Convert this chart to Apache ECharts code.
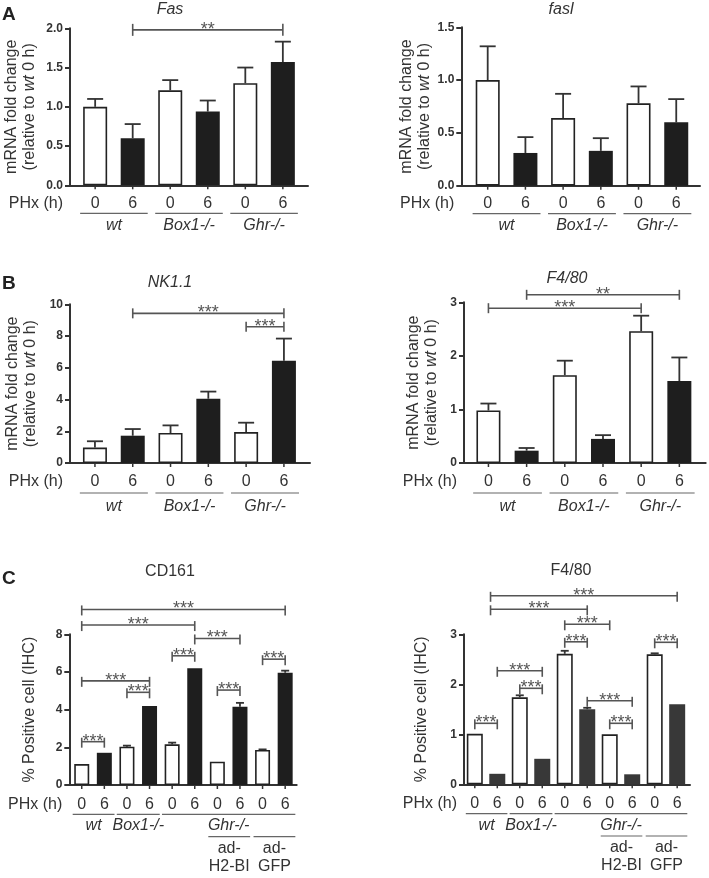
<!DOCTYPE html>
<html><head><meta charset="utf-8">
<script src="https://cdn.jsdelivr.net/npm/echarts@6/dist/echarts.min.js"></script>
<style>html,body{margin:0;padding:0;background:#fff}#c{width:709px;height:878px}</style>
</head><body><div id="c"></div>
<script>
// ---------------- DATA ----------------
const phxTicks = ['0', '6'];
const groupNames = ['wt', 'Box1-/-', 'Ghr-/-'];
const groupsAB = [[-0.4, 1.4], [1.6, 3.4], [3.6, 5.4]];
const groupsC = [[-0.4, 1.45], [1.55, 3.45], [3.55, 9.45]];
const subGroupsC = [[5.6, 7.45], [7.6, 9.45]];
const subGroupNamesC = [['ad-', 'H2-BI'], ['ad-', 'GFP']];

// Panel A: Fas
const fasMean = [1.00, 0.60, 1.21, 0.94, 1.30, 1.57];
const fasTop  = [1.10, 0.78, 1.34, 1.08, 1.50, 1.83];
const fasBrackets = [[1, 5, 1.98, '**']];
// Panel A: fasl
const faslMean = [1.00, 0.31, 0.64, 0.33, 0.78, 0.60];
const faslTop  = [1.32, 0.46, 0.87, 0.45, 0.94, 0.82];
const faslBrackets = [];
// Panel B: NK1.1
const nkMean = [0.97, 1.72, 1.89, 4.05, 1.95, 6.45];
const nkTop  = [1.37, 2.14, 2.37, 4.50, 2.54, 7.84];
const nkBrackets = [[1, 5, 9.43, '***'], [4, 5, 8.59, '***']];
// Panel B: F4/80
const f480Mean = [0.98, 0.23, 1.64, 0.45, 2.46, 1.53];
const f480Top  = [1.11, 0.28, 1.91, 0.52, 2.75, 1.97];
const f480Brackets = [[0, 4, 2.89, '***'], [1, 5, 3.14, '**']];
// Panel C: CD161 (IHC)
const cd161Mean = [1.11, 1.71, 2.03, 4.19, 2.16, 6.20, 1.24, 4.15, 1.86, 5.96];
const cd161Top  = [1.11, 1.71, 2.09, 4.19, 2.25, 6.20, 1.24, 4.36, 1.89, 6.07];
const cd161Brackets = [[0, 9, 9.32, '***'], [0, 5, 8.49, '***'], [5, 7, 7.78, '***'], [4, 5, 6.86, '***'],
  [8, 9, 6.68, '***'], [0, 3, 5.53, '***'], [2, 3, 4.92, '***'], [6, 7, 5.04, '***'], [0, 1, 2.3, '***']];
// Panel C: F4/80 (IHC)
const f480cMean = [1.01, 0.21, 1.74, 0.51, 2.61, 1.50, 1.00, 0.20, 2.60, 1.60];
const f480cTop  = [1.01, 0.21, 1.78, 0.51, 2.67, 1.53, 1.00, 0.20, 2.62, 1.60];
const f480cBrackets = [[0.7, 9, 3.77, '***'], [0.7, 5, 3.5, '***'], [4, 6, 3.2, '***'], [4, 5, 2.85, '***'],
  [8, 9, 2.84, '***'], [1, 3, 2.27, '***'], [2, 3, 1.92, '***'], [5, 7, 1.67, '***'], [0, 1, 1.22, '***'], [6, 7, 1.22, '***']];

// ---------------- BUILD ----------------
const FONT = '"Liberation Sans", Arial, Helvetica, sans-serif';
const mrnaName = 'mRNA fold change\n(relative to {i|wt} 0 h)';
const ihcName = '% Positive cell (IHC)';

const panels = [
  {gl: 70, gt: 28.3, gw: 238, gh: 157, xmin: -0.67, xmax: 5.67, ymax: 2, yint: 0.5, dec: 1,
   mean: fasMean, errTop: fasTop, brackets: fasBrackets, groups: groupsAB, sub: null, barW: 24, cap: 8,
   dark: '#1e1e1e', name: mrnaName, nameGap: 31, capUp: 6, capDn: 6, lab: 18, line: 28, grp: 40},
  {gl: 461.3, gt: 27.3, gw: 238.7, gh: 158.4, xmin: -0.70, xmax: 5.63, ymax: 1.5, yint: 0.5, dec: 1,
   mean: faslMean, errTop: faslTop, brackets: faslBrackets, groups: groupsAB, sub: null, barW: 24, cap: 8,
   dark: '#1e1e1e', name: mrnaName, nameGap: 25, capUp: 6, capDn: 6, lab: 18, line: 28, grp: 40},
  {gl: 70, gt: 304.3, gw: 240, gh: 158.7, xmin: -0.66, xmax: 5.69, ymax: 10, yint: 2, dec: 0,
   mean: nkMean, errTop: nkTop, brackets: nkBrackets, groups: groupsAB, sub: null, barW: 24, cap: 8,
   dark: '#1e1e1e', name: mrnaName, nameGap: 30, capUp: 5, capDn: 5, lab: 18.5, line: 30, grp: 44},
  {gl: 464, gt: 302.3, gw: 241.7, gh: 160.7, xmin: -0.64, xmax: 5.69, ymax: 3, yint: 1, dec: 0,
   mean: f480Mean, errTop: f480Top, brackets: f480Brackets, groups: groupsAB, sub: null, barW: 24, cap: 8,
   dark: '#1e1e1e', name: mrnaName, nameGap: 23, capUp: 5, capDn: 5, lab: 18.5, line: 30, grp: 44},
  {gl: 69.3, gt: 634.3, gw: 227.4, gh: 150.7, xmin: -0.55, xmax: 9.51, ymax: 8, yint: 2, dec: 0,
   mean: cd161Mean, errTop: cd161Top, brackets: cd161Brackets, groups: groupsC, sub: subGroupsC, barW: 15, cap: 4,
   dark: '#1e1e1e', name: ihcName, nameGap: 31, capUp: 4, capDn: 6, lab: 19.3, line: 29.3, grp: 41},
  {gl: 464, gt: 634.3, gw: 226, gh: 150, xmin: -0.48, xmax: 9.57, ymax: 3, yint: 1, dec: 0,
   mean: f480cMean, errTop: f480cTop, brackets: f480cBrackets, groups: groupsC, sub: subGroupsC, barW: 16, cap: 4,
   dark: '#383838', name: ihcName, nameGap: 33, capUp: 4, capDn: 6, lab: 19.3, line: 29.3, grp: 41}
];

const grids = [], xAxes = [], yAxes = [], series = [];
const AX = '#333';
panels.forEach((c, i) => {
  grids.push({left: c.gl, top: c.gt, width: c.gw, height: c.gh, containLabel: false, outerBoundsMode: 'none'});
  xAxes.push({gridIndex: i, type: 'value', min: c.xmin, max: c.xmax,
    axisLine: {show: true, onZero: false, lineStyle: {color: AX, width: 2}},
    axisTick: {show: false}, axisLabel: {show: false}, splitLine: {show: false}});
  yAxes.push({gridIndex: i, type: 'value', min: 0, max: c.ymax, interval: c.yint,
    axisLine: {show: true, onZero: false, lineStyle: {color: AX, width: 2}},
    axisTick: {show: true, length: 5, lineStyle: {color: AX, width: 2}},
    axisLabel: {fontFamily: FONT, fontSize: 12, fontWeight: 'bold', color: AX, margin: 7,
      formatter: v => v.toFixed(c.dec)},
    splitLine: {show: false},
    name: c.name, nameLocation: 'middle', nameGap: c.nameGap,
    nameTextStyle: {fontFamily: FONT, fontSize: 16, color: AX, lineHeight: 18,
      rich: {i: {fontFamily: FONT, fontSize: 16, color: AX, fontStyle: 'italic', lineHeight: 18}}}});
  // bars
  series.push({type: 'bar', xAxisIndex: i, yAxisIndex: i, barWidth: c.barW, animation: false, silent: true,
    data: c.mean.map((v, k) => ({value: [k, v], itemStyle: k % 2 === 0
      ? {color: '#fff', borderColor: '#222', borderWidth: 1.6}
      : {color: c.dark, borderColor: c.dark, borderWidth: 0}}))});
  // error bars
  series.push({type: 'custom', xAxisIndex: i, yAxisIndex: i, clip: false, animation: false, silent: true,
    encode: {x: 0, y: [1, 2]},
    data: c.mean.map((v, k) => [k, v, c.errTop[k]]).filter(d => d[2] > d[1]),
    renderItem: (p, api) => {
      const a = api.coord([api.value(0), api.value(1)]);
      const b = api.coord([api.value(0), api.value(2)]);
      const st = {stroke: '#333', lineWidth: 1.8};
      return {type: 'group', children: [
        {type: 'line', shape: {x1: a[0], y1: a[1], x2: b[0], y2: b[1]}, style: st},
        {type: 'line', shape: {x1: b[0] - c.cap, y1: b[1], x2: b[0] + c.cap, y2: b[1]}, style: st}]};
    }});
  // significance brackets
  if (c.brackets.length) series.push({type: 'custom', xAxisIndex: i, yAxisIndex: i, clip: false, animation: false, silent: true,
    encode: {x: [0, 1], y: 2},
    data: c.brackets.map(b => [b[0], b[1], b[2]]),
    renderItem: (p, api) => {
      const a = api.coord([api.value(0), api.value(2)]);
      const b = api.coord([api.value(1), api.value(2)]);
      const st = {stroke: '#555', lineWidth: 1.6};
      return {type: 'group', children: [
        {type: 'line', shape: {x1: a[0], y1: a[1], x2: b[0], y2: b[1]}, style: st},
        {type: 'line', shape: {x1: a[0], y1: a[1] - c.capUp, x2: a[0], y2: a[1] + c.capDn}, style: st},
        {type: 'line', shape: {x1: b[0], y1: b[1] - c.capUp, x2: b[0], y2: b[1] + c.capDn}, style: st},
        {type: 'text', style: {text: c.brackets[p.dataIndex][3], x: (a[0] + b[0]) / 2, y: a[1] + 9,
          align: 'center', verticalAlign: 'bottom', fill: '#555', font: '18px ' + FONT}}]};
    }});
  // x tick labels (0 / 6), ticks and PHx label
  series.push({type: 'custom', xAxisIndex: i, yAxisIndex: i, clip: false, animation: false, silent: true,
    encode: {x: 0, y: 1},
    data: c.mean.map((v, k) => [k, 0]),
    renderItem: (p, api) => {
      const a = api.coord([api.value(0), 0]);
      const ch = [
        {type: 'line', shape: {x1: a[0], y1: a[1], x2: a[0], y2: a[1] + 4}, style: {stroke: AX, lineWidth: 1.5}},
        {type: 'text', style: {text: phxTicks[p.dataIndex % 2], x: a[0], y: a[1] + c.lab,
          align: 'center', verticalAlign: 'middle', fill: AX, font: '16px ' + FONT}}];
      if (p.dataIndex === 0) {
        const l = api.coord([c.xmin, 0]);
        ch.push({type: 'text', style: {text: 'PHx (h)', x: l[0] - 7, y: a[1] + c.lab,
          align: 'right', verticalAlign: 'middle', fill: AX, font: '16px ' + FONT}});
      }
      return {type: 'group', children: ch};
    }});
  // group lines and names
  series.push({type: 'custom', xAxisIndex: i, yAxisIndex: i, clip: false, animation: false, silent: true,
    encode: {x: [0, 1]},
    data: c.groups.map(g => [g[0], g[1]]),
    renderItem: (p, api) => {
      const a = api.coord([api.value(0), 0]);
      const b = api.coord([api.value(1), 0]);
      return {type: 'group', children: [
        {type: 'line', shape: {x1: a[0], y1: a[1] + c.line, x2: b[0], y2: a[1] + c.line}, style: {stroke: '#666', lineWidth: 1.2}},
        {type: 'text', style: {text: groupNames[p.dataIndex], x: (a[0] + b[0]) / 2, y: a[1] + c.grp,
          align: 'center', verticalAlign: 'middle', fill: AX, font: 'italic 16px ' + FONT}}]};
    }});
  if (c.sub) series.push({type: 'custom', xAxisIndex: i, yAxisIndex: i, clip: false, animation: false, silent: true,
    encode: {x: [0, 1]},
    data: c.sub.map(g => [g[0], g[1]]),
    renderItem: (p, api) => {
      const a = api.coord([api.value(0), 0]);
      const b = api.coord([api.value(1), 0]);
      const mx = (a[0] + b[0]) / 2;
      const nm = subGroupNamesC[p.dataIndex];
      return {type: 'group', children: [
        {type: 'line', shape: {x1: a[0], y1: a[1] + 51.7, x2: b[0], y2: a[1] + 51.7}, style: {stroke: '#666', lineWidth: 1.2}},
        {type: 'text', style: {text: nm[0], x: mx, y: a[1] + 63.3, align: 'center', verticalAlign: 'middle', fill: AX, font: '16px ' + FONT}},
        {type: 'text', style: {text: nm[1], x: mx, y: a[1] + 81.7, align: 'center', verticalAlign: 'middle', fill: AX, font: '16px ' + FONT}}]};
    }});
});

const titles = [
  ['Fas', 170, 10, true], ['fasl', 561, 10, true], ['NK1.1', 170, 283, true],
  ['F4/80', 567, 279, true], ['CD161', 170, 572, false], ['F4/80', 571, 571, false]
];
const letters = [['A', 15], ['B', 284], ['C', 579]];
const graphic = [];
titles.forEach(t => graphic.push({type: 'text', x: t[1], y: t[2], silent: true,
  style: {text: t[0], align: 'center', verticalAlign: 'middle', fill: AX, font: (t[3] ? 'italic ' : '') + '16px ' + FONT}}));
letters.forEach(l => graphic.push({type: 'text', x: 2, y: l[1], silent: true,
  style: {text: l[0], align: 'left', verticalAlign: 'middle', fill: '#222', font: 'bold 19px ' + FONT}}));

const chart = echarts.init(document.getElementById('c'), null, {renderer: 'canvas'});
chart.setOption({
  animation: false,
  backgroundColor: '#fff',
  textStyle: {fontFamily: FONT},
  grid: grids, xAxis: xAxes, yAxis: yAxes, series: series, graphic: graphic
});
</script>
</body></html>
